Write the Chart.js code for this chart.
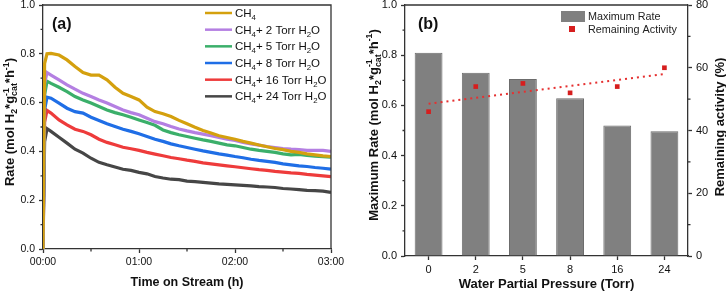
<!DOCTYPE html>
<html><head><meta charset="utf-8">
<script src="https://cdn.jsdelivr.net/npm/chart.js@4.4.0/dist/chart.umd.min.js"></script>
<style>
html,body{margin:0;padding:0;background:#fff;}
#wrap{position:relative;width:726px;height:298px;overflow:hidden;}
#ca{position:absolute;left:0;top:0;}
#cb{position:absolute;left:363px;top:0;}
</style></head><body>
<div id="wrap"><canvas id="ca" width="363" height="298"></canvas><canvas id="cb" width="363" height="298"></canvas></div>
<script>
// ================= Panel (a) data =================
const minutes = [0,1,2.5,5,10,15,20,25,30,35,40,45,50,55,60,65,70,75,80,85,90,95,100,105,110,115,120,125,130,135,140,145,150,155,160,165,170,175,180];
const seriesNames = ['CH₄','CH₄+ 2 Torr H₂O','CH₄+ 5 Torr H₂O','CH₄+ 8 Torr H₂O','CH₄+ 16 Torr H₂O','CH₄+ 24 Torr H₂O'];
const rateCH4   = [0,0.76,0.800,0.802,0.795,0.775,0.748,0.723,0.713,0.713,0.693,0.663,0.638,0.625,0.611,0.581,0.563,0.554,0.543,0.527,0.513,0.499,0.486,0.475,0.464,0.457,0.450,0.441,0.434,0.426,0.419,0.412,0.407,0.400,0.396,0.390,0.386,0.382,0.379];
const rate2Torr = [0,0.68,0.723,0.713,0.693,0.673,0.655,0.638,0.625,0.611,0.598,0.584,0.570,0.559,0.550,0.536,0.522,0.513,0.502,0.492,0.484,0.477,0.471,0.464,0.457,0.450,0.445,0.437,0.431,0.426,0.420,0.416,0.412,0.409,0.407,0.404,0.404,0.404,0.400];
const rate5Torr = [0,0.63,0.688,0.679,0.663,0.645,0.625,0.611,0.598,0.584,0.570,0.559,0.550,0.540,0.529,0.518,0.507,0.488,0.477,0.468,0.461,0.454,0.447,0.441,0.434,0.427,0.423,0.416,0.409,0.404,0.400,0.396,0.390,0.386,0.388,0.384,0.381,0.378,0.376];
const rate8Torr = [0,0.57,0.622,0.618,0.598,0.577,0.563,0.557,0.540,0.527,0.513,0.502,0.491,0.482,0.472,0.461,0.450,0.441,0.431,0.423,0.416,0.409,0.402,0.396,0.390,0.385,0.379,0.374,0.368,0.363,0.359,0.355,0.349,0.345,0.341,0.338,0.334,0.331,0.327];
const rate16Torr= [0,0.52,0.568,0.557,0.529,0.509,0.491,0.482,0.468,0.450,0.437,0.427,0.417,0.411,0.404,0.396,0.389,0.382,0.375,0.370,0.364,0.359,0.353,0.349,0.345,0.341,0.337,0.333,0.329,0.325,0.322,0.318,0.315,0.312,0.310,0.306,0.303,0.300,0.297];
const rate24Torr= [0,0.44,0.493,0.482,0.458,0.434,0.409,0.393,0.372,0.355,0.345,0.336,0.327,0.322,0.314,0.308,0.297,0.291,0.286,0.284,0.278,0.276,0.273,0.270,0.267,0.265,0.263,0.261,0.259,0.256,0.254,0.252,0.248,0.246,0.243,0.240,0.239,0.237,0.232];
const timeTickValues = [0,60,120,180];
const timeTickLabels = ['00:00','01:00','02:00','03:00'];
const timeMinorTicks = [30,90,150];
const rateMinorTicks = [0.1,0.3,0.5,0.7,0.9];

// ================= Panel (b) data =================
const pressures = ['0','2','5','8','16','24'];
const maxRate = [0.81,0.73,0.705,0.628,0.52,0.497];
const remainingActivity = [46,54,55,52,54,60];
const trendline = [48.5,null,null,null,null,58.0];
const activityMinorTicks = [10,30,50,70];

// ================= styles =================
const FAM = '"Liberation Sans", Arial, Helvetica, sans-serif';
const AXIS = '#333333';
const TXT = '#111111';
const seriesColors = ['#D4A00E','#B47FE2','#3BAF6A','#1F6EE6','#EE3B3B','#464646'];
const seriesValues = [rateCH4,rate2Torr,rate5Torr,rate8Torr,rate16Torr,rate24Torr];

const SUBS = '₀₁₂₃₄₅₆₇₈₉';
function toSegs(str){
  const segs=[]; let buf='';
  for (const ch of str){ const k=SUBS.indexOf(ch);
    if(k>=0){ if(buf){segs.push({t:buf});buf='';} segs.push({sub:String(k)}); } else buf+=ch; }
  if(buf) segs.push({t:buf});
  return segs;
}
function drawRich(ctx, segs, o){
  const size=o.size, weight=o.weight||'normal', small=size*0.68;
  const fBig=`${weight} ${size}px ${FAM}`, fSmall=`${weight} ${small}px ${FAM}`;
  ctx.save();
  ctx.translate(o.x,o.y); ctx.rotate(o.rot||0);
  ctx.fillStyle=o.color||TXT; ctx.textBaseline='alphabetic'; ctx.textAlign='left';
  const widths=segs.map(s=>{
    if(s.t!==undefined){ctx.font=fBig;return ctx.measureText(s.t).width;}
    ctx.font=fSmall; return Math.max(s.sup?ctx.measureText(s.sup).width:0, s.sub?ctx.measureText(s.sub).width:0);
  });
  const total=widths.reduce((a,b)=>a+b,0);
  let cx=o.align==='center'?-total/2:0;
  const base=size*0.36;
  segs.forEach((s,i)=>{
    if(s.t!==undefined){ctx.font=fBig;ctx.fillText(s.t,cx,base);}
    else{ctx.font=fSmall; if(s.sup)ctx.fillText(s.sup,cx,base-size*0.42); if(s.sub)ctx.fillText(s.sub,cx,base+size*0.24);}
    cx+=widths[i];
  });
  ctx.restore();
}
function minorTicks(ctx, scale, values, len, side){
  ctx.beginPath();
  values.forEach(v=>{const p=scale.getPixelForValue(v);
    if(side==='left'){ctx.moveTo(scale.right,p);ctx.lineTo(scale.right-len,p);}
    else if(side==='right'){ctx.moveTo(scale.left,p);ctx.lineTo(scale.left+len,p);}
    else {ctx.moveTo(p,scale.top);ctx.lineTo(p,scale.top+len);}
  });
  ctx.stroke();
}
const rateUnit = [{t:' (mol H'},{sub:'2'},{t:'*g'},{sup:'-1',sub:'cat'},{t:'*h'},{sup:'-1'},{t:')'}];

function axisOpts(extra){
  return Object.assign({
    grid:{display:true,drawOnChartArea:false,drawTicks:true,tickLength:4,color:AXIS,tickColor:AXIS,tickWidth:1.3},
    border:{display:true,color:AXIS,width:1.3},
  }, extra);
}
const tickFontA = {family:FAM,size:10.5};
const tickFontB = {family:FAM,size:11};

// ================= Chart (a) =================
const plugA = {
  id:'plugA',
  afterDraw(chart){
    const {ctx, chartArea:a, scales} = chart;
    ctx.save();
    ctx.strokeStyle=AXIS; ctx.lineWidth=1.3;
    ctx.beginPath(); ctx.moveTo(a.left,a.top); ctx.lineTo(a.right,a.top); ctx.lineTo(a.right,a.bottom); ctx.stroke();
    minorTicks(ctx, scales.y, rateMinorTicks, 2.5, 'left');
    minorTicks(ctx, scales.x, timeMinorTicks, 2.5, 'bottom');
    // panel label
    ctx.fillStyle=TXT; ctx.font=`bold 16px ${FAM}`; ctx.textBaseline='middle'; ctx.textAlign='left';
    ctx.fillText('(a)',52,25);
    // legend
    chart.data.datasets.forEach((ds,i)=>{
      const y=13+i*16.67;
      ctx.strokeStyle=ds.borderColor; ctx.lineWidth=2.5;
      ctx.beginPath(); ctx.moveTo(205,y); ctx.lineTo(232,y); ctx.stroke();
      drawRich(ctx, toSegs(ds.label), {x:235,y:y,size:11.5});
    });
    // y title
    drawRich(ctx, [{t:'Rate'}].concat(rateUnit), {x:9.5,y:122,size:13,weight:'bold',rot:-Math.PI/2,align:'center'});
    ctx.restore();
  }
};
new Chart(document.getElementById('ca'), {
  type:'line',
  data:{datasets: seriesNames.map((n,i)=>({
    label:n, data: minutes.map((m,j)=>({x:m,y:seriesValues[i][j]})),
    borderColor:seriesColors[i], backgroundColor:seriesColors[i], borderWidth:3.2, pointRadius:0, tension:0, fill:false
  }))},
  options:{
    responsive:false, animation:false, devicePixelRatio:1,
    layout:{padding:{top:5,right:32,left:0,bottom:0}},
    plugins:{legend:{display:false},tooltip:{enabled:false}},
    scales:{
      x: axisOpts({type:'linear',min:0,max:180,
        afterBuildTicks:s=>{s.ticks=timeTickValues.map(v=>({value:v}));},
        ticks:{autoSkip:false,maxRotation:0,padding:3,color:TXT,font:tickFontA,callback:(v,i)=>timeTickLabels[i]},
        title:{display:true,text:'Time on Stream (h)',color:TXT,font:{family:FAM,size:12.5,weight:'bold'},padding:{top:0,bottom:8}},
        afterFit:s=>{s.height=49;s.paddingLeft=0;s.paddingRight=0;}}),
      y: axisOpts({type:'linear',min:0,max:1,
        ticks:{stepSize:0.2,padding:4,color:TXT,font:tickFontA,callback:v=>v.toFixed(1)},
        afterFit:s=>{s.width=43;s.paddingTop=0;s.paddingBottom=0;}})
    }
  },
  plugins:[plugA]
});

// ================= Chart (b) =================
const plugB = {
  id:'plugB',
  afterDraw(chart){
    const {ctx, chartArea:a, scales} = chart;
    ctx.save();
    ctx.strokeStyle=AXIS; ctx.lineWidth=1.3;
    ctx.beginPath(); ctx.moveTo(a.left,a.top); ctx.lineTo(a.right,a.top); ctx.stroke();
    minorTicks(ctx, scales.y, rateMinorTicks, 2.5, 'left');
    minorTicks(ctx, scales.y1, activityMinorTicks, 2.5, 'right');
    ctx.fillStyle=TXT; ctx.font=`bold 16px ${FAM}`; ctx.textBaseline='middle'; ctx.textAlign='left';
    ctx.fillText('(b)',55,25);
    // legend
    const dsBar=chart.data.datasets[2], dsPts=chart.data.datasets[0];
    ctx.fillStyle=dsBar.backgroundColor; ctx.fillRect(198,11,24,11);
    ctx.fillStyle=dsPts.backgroundColor; ctx.fillRect(206,26,6,6);
    drawRich(ctx,[{t:dsBar.label}],{x:225,y:16.5,size:10.8,color:'#222'});
    drawRich(ctx,[{t:dsPts.label}],{x:225,y:29.5,size:10.8,color:'#222'});
    // titles
    drawRich(ctx, [{t:'Maximum Rate'}].concat(rateUnit), {x:10,y:125,size:13,weight:'bold',rot:-Math.PI/2,align:'center'});
    drawRich(ctx, [{t:'Remaining activity (%)'}], {x:356,y:127,size:13,weight:'bold',rot:-Math.PI/2,align:'center'});
    ctx.restore();
  }
};
new Chart(document.getElementById('cb'), {
  data:{labels:pressures, datasets:[
    {type:'line',label:'Remaining Activity',data:remainingActivity,yAxisID:'y1',showLine:false,pointStyle:'rect',pointRadius:3.3,pointBorderWidth:0,backgroundColor:'#D61E1E',borderColor:'#D61E1E',order:0},
    {type:'line',label:'Trend',data:trendline,yAxisID:'y1',spanGaps:true,borderDash:[2,4],borderWidth:2,borderColor:'#E53030',pointRadius:0,order:1},
    {type:'bar',label:'Maximum Rate',data:maxRate,yAxisID:'y',backgroundColor:'#808080',borderColor:'#6c6c6c',borderWidth:1,barPercentage:0.59,categoryPercentage:1,order:2}
  ]},
  options:{
    responsive:false, animation:false, devicePixelRatio:1,
    layout:{padding:{top:5,right:0,left:0,bottom:0}},
    plugins:{legend:{display:false},tooltip:{enabled:false}},
    scales:{
      x: axisOpts({type:'category',offset:true,
        grid:{display:true,offset:false,drawOnChartArea:false,drawTicks:true,tickLength:4,color:AXIS,tickColor:AXIS,tickWidth:1.3},
        ticks:{padding:3,color:TXT,font:tickFontB,maxRotation:0},
        title:{display:true,text:'Water Partial Pressure (Torr)',color:TXT,font:{family:FAM,size:13,weight:'bold'},padding:{top:0,bottom:6}},
        afterFit:s=>{s.height=42;s.paddingLeft=0;s.paddingRight=0;}}),
      y: axisOpts({type:'linear',position:'left',min:0,max:1,
        ticks:{stepSize:0.2,padding:4,color:TXT,font:tickFontB,callback:v=>v.toFixed(1)},
        afterFit:s=>{s.width=42;s.paddingTop=0;s.paddingBottom=0;}}),
      y1: axisOpts({type:'linear',position:'right',min:0,max:80,
        ticks:{stepSize:20,padding:4,color:TXT,font:tickFontB},
        afterFit:s=>{s.width=38;s.paddingTop=0;s.paddingBottom=0;}})
    }
  },
  plugins:[plugB]
});
</script>
</body></html>
